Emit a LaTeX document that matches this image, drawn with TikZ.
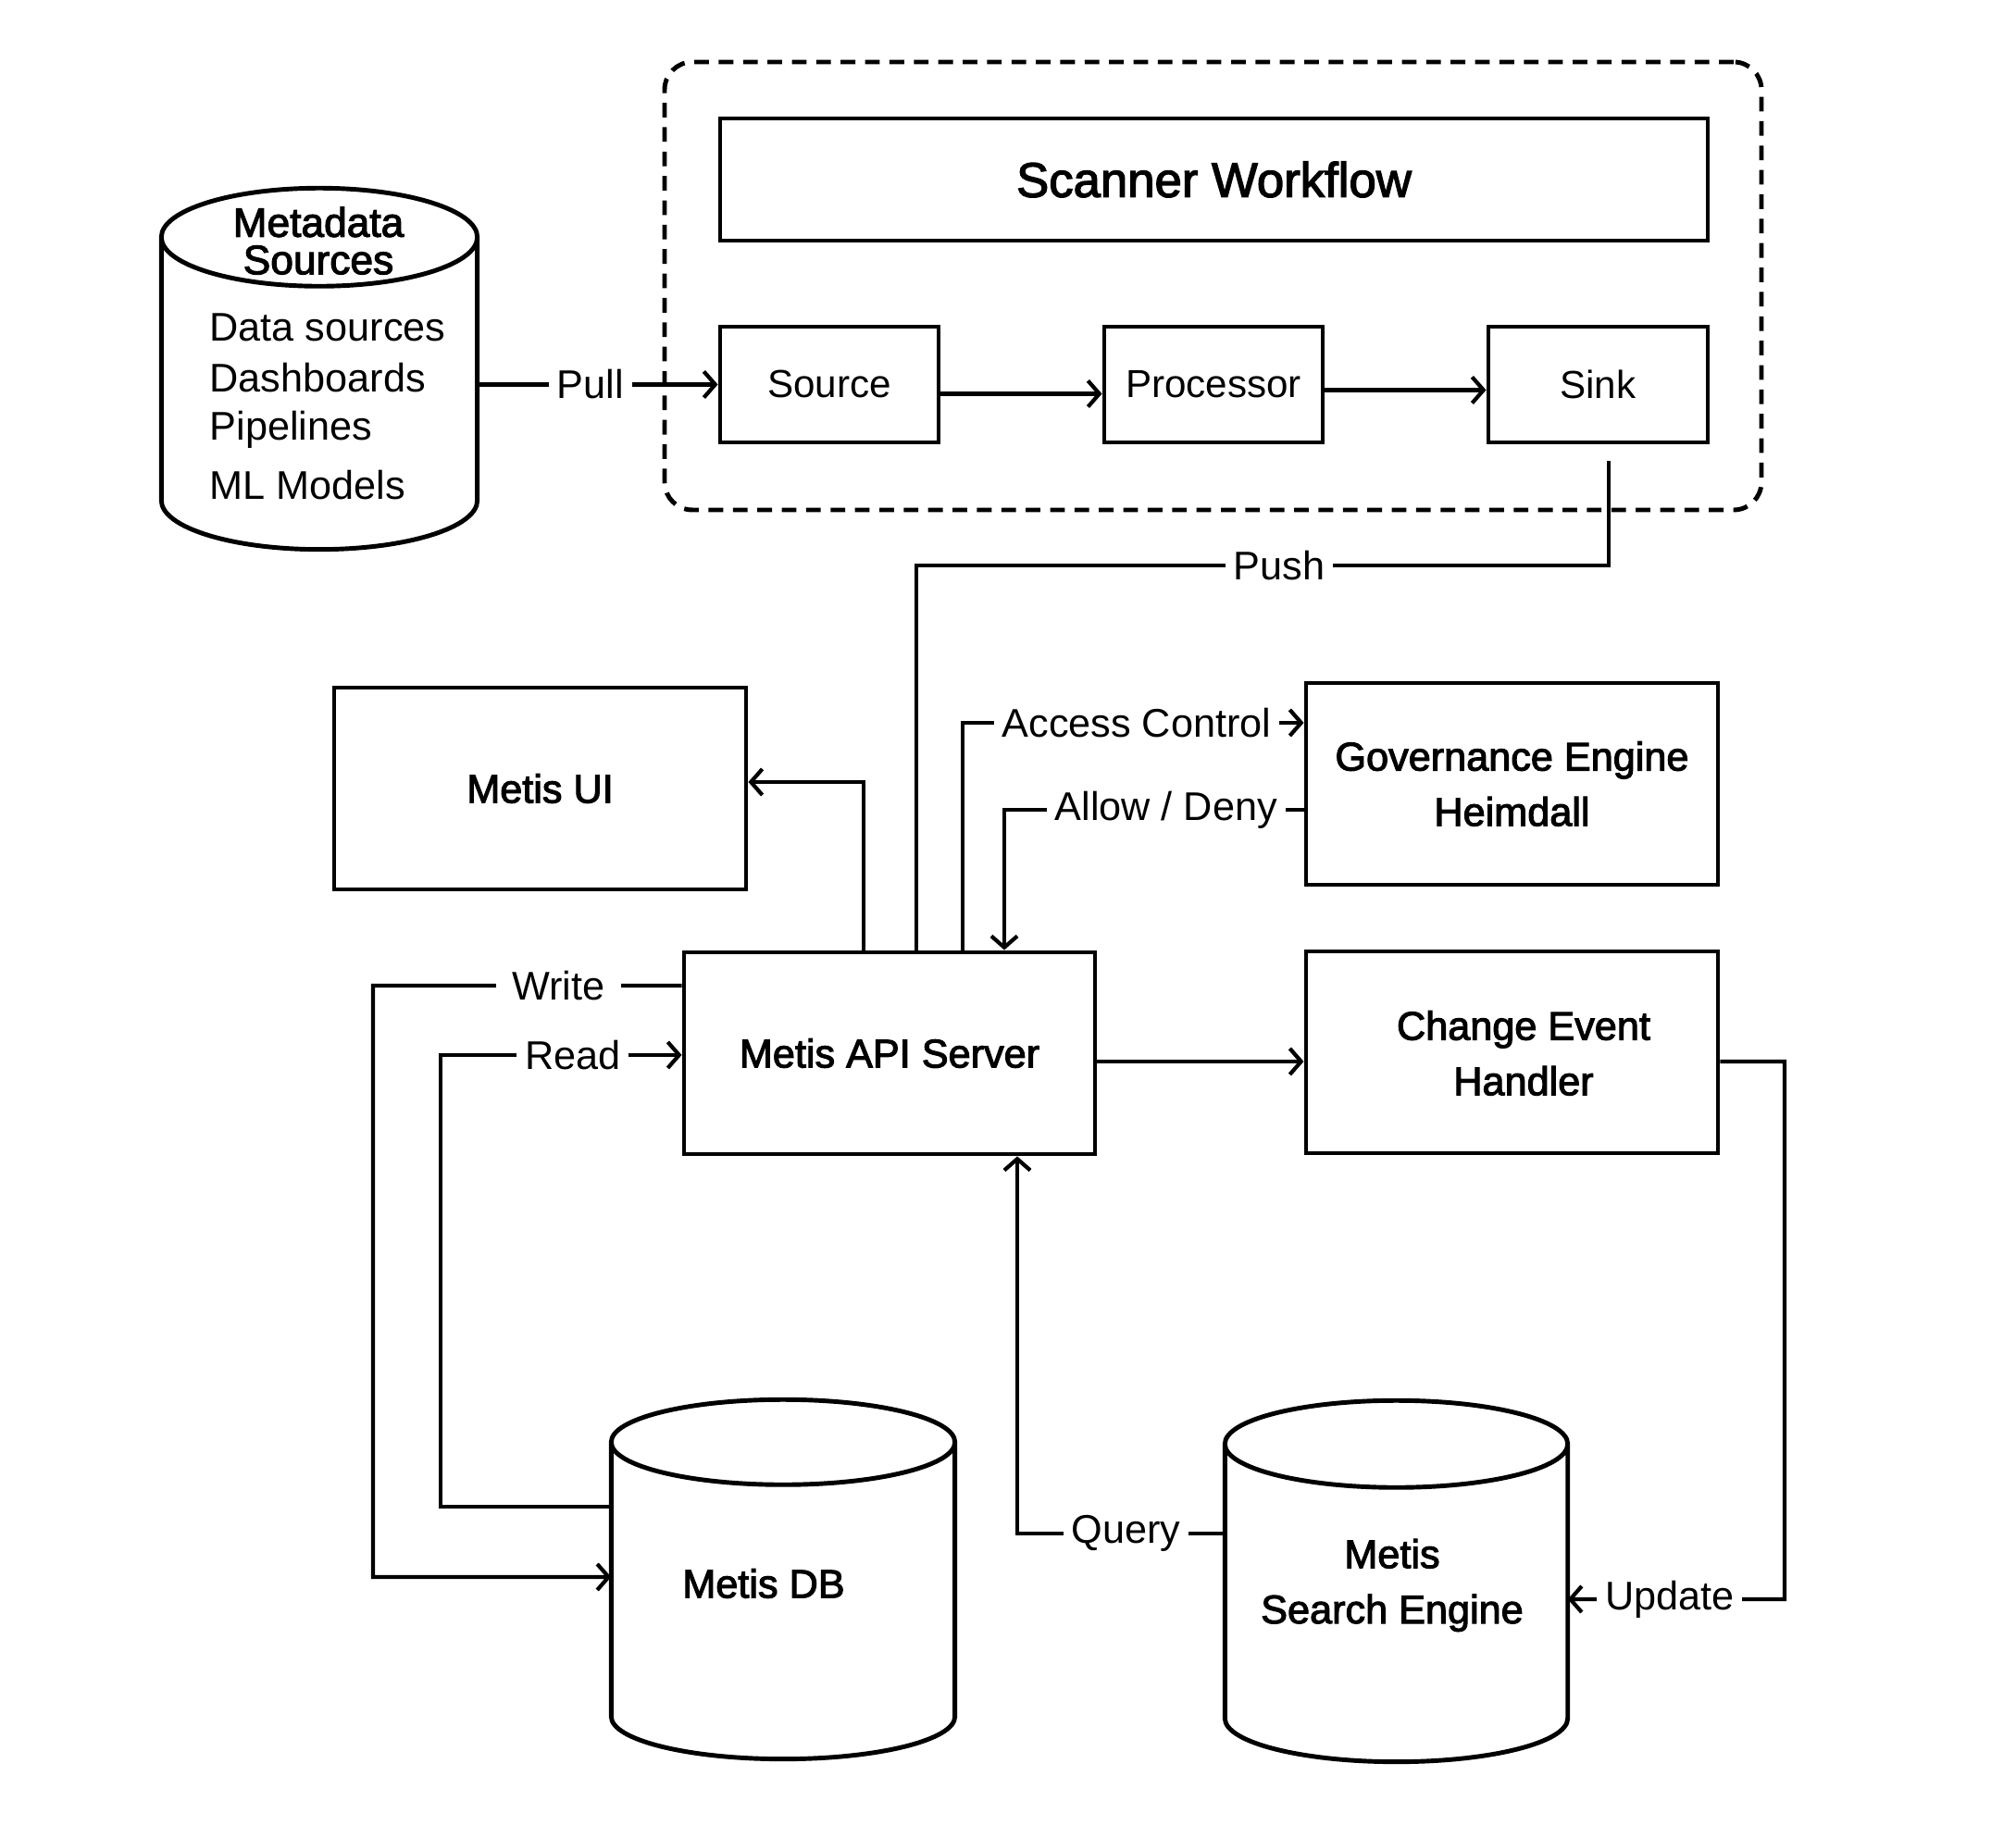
\documentclass[tikz,border=0pt]{standalone}
\usepackage{fontspec}
\setmainfont{Liberation Sans}
\newfontfamily\medfont[FakeBold=2.5]{Liberation Sans}
\usetikzlibrary{arrows.meta,calc}

\tikzset{
  box/.style={draw, line width=1.4pt, rectangle, inner sep=0pt},
  conn/.style={line width=1.2pt},
  arr/.style={conn, -{Straight Barb[length=3.5pt,width=8pt]}},
  lbl/.style={fill=white, inner xsep=2.5pt, inner ysep=1pt, font=\fontsize{12.3}{14}\selectfont},
  ttl/.style={font=\medfont\fontsize{12.3}{17}\selectfont, align=center},
  txt/.style={font=\fontsize{12.3}{14}\selectfont, inner sep=0pt},
  cylbody/.style={inner sep=0pt, rectangle},
}

% outline of a vertical cylinder fitted to a node: #1 node name, #2 radius of the end ellipses
\newcommand\drawcylinder[2]{%
  \draw[line width=1.4pt] let \p1=(#1.north west), \p2=(#1.south east), \n1={(\x2-\x1)/2} in
    (\x1,\y1-#2) -- (\x1,\y2+#2)
    arc[start angle=180, end angle=360, x radius=\n1, y radius=#2]
    -- (\x2,\y1-#2)
    (\x1+\n1,\y1-#2) ellipse[x radius=\n1, y radius=#2];
}

\begin{document}
\begin{tikzpicture}
\useasboundingbox (0,0) rectangle (21.78,19.86);
\fill[white] (0,0) rectangle (21.78,19.86);

% scanner workflow group
\node[draw, line width=1.4pt, dash pattern=on 4.5pt off 3pt, rounded corners=0.3cm,
      minimum width=11.85cm, minimum height=4.84cm] (scanner) at (13.105,16.77) {};
\node[box, minimum width=10.67cm, minimum height=1.32cm,
      font=\medfont\fontsize{15}{18}\selectfont] (wf) at (13.115,17.92) {Scanner Workflow};
\node[box, minimum width=2.36cm, minimum height=1.25cm, font=\fontsize{12}{14}\selectfont] (src) at (8.96,15.705) {Source};
\node[box, minimum width=2.36cm, minimum height=1.25cm, font=\fontsize{12}{14}\selectfont] (proc) at (13.11,15.705) {Processor};
\node[box, minimum width=2.37cm, minimum height=1.25cm, font=\fontsize{12}{14}\selectfont] (sink) at (17.265,15.705) {Sink};

% metadata sources
\node[cylbody, minimum width=3.40cm, minimum height=3.89cm] (meta) at (3.45,15.875) {};
\drawcylinder{meta}{0.53cm}
\node[ttl, font=\medfont\fontsize{12.6}{14}\selectfont, inner sep=0pt] (metat1) at (3.44,17.46) {Metadata};
\node[ttl, font=\medfont\fontsize{12.6}{14}\selectfont, inner sep=0pt] (metat2) at (3.44,17.05) {Sources};
\node[txt, anchor=west] (ms1) at (2.26,16.32) {Data sources};
\node[txt, anchor=west] (ms2) at (2.26,15.78) {Dashboards};
\node[txt, anchor=west] (ms3) at (2.26,15.22) {Pipelines};
\node[txt, anchor=west] (ms4) at (2.26,14.62) {ML Models};

% service boxes
\node[box, ttl, minimum width=4.45cm, minimum height=2.18cm] (ui) at (5.835,11.34) {Metis UI};
\node[box, ttl, minimum width=4.45cm, minimum height=2.18cm] (gov) at (16.335,11.39) {Governance Engine\\Heimdall};
\node[box, ttl, minimum width=4.44cm, minimum height=2.18cm] (api) at (9.61,8.48) {Metis API Server};
\node[box, minimum width=4.45cm, minimum height=2.18cm] (ceh) at (16.335,8.49) {};
\node[ttl, inner sep=0pt] (cehtxt) at (16.46,8.48) {Change Event\\Handler};

% storage
\node[cylbody, minimum width=3.70cm, minimum height=3.87cm] (db) at (8.46,2.795) {};
\drawcylinder{db}{0.46cm}
\node[ttl, inner sep=0pt] (dbtxt) at (8.25,2.75) {Metis DB};
\node[cylbody, minimum width=3.69cm, minimum height=3.89cm] (se) at (15.085,2.775) {};
\drawcylinder{se}{0.47cm}
\node[ttl, inner sep=0pt] (setxt) at (15.04,2.73) {Metis\\Search Engine};

% scanner connectors
\draw[arr] (meta.east |- src.west) -- node[lbl, pos=0.47] {Pull} (src.west);
\draw[arr] ([yshift=-0.1cm]src.east) -- ([yshift=-0.1cm]proc.west);
\draw[arr] ([yshift=-0.06cm]proc.east) -- ([yshift=-0.06cm]sink.west);

\coordinate (sinkout) at ($(sink.south)+(0.115,-0.18)$);
\coordinate (pushbend) at (9.90,13.75);
\draw[conn] (sinkout) -- (sinkout |- pushbend) -- node[lbl, pos=0.476] {Push} (pushbend) -- (pushbend |- api.north);

% api server connectors
\draw[arr] ([xshift=-0.28cm]api.north) |- ([yshift=0.07cm]ui.east);
\draw[arr] ([xshift=0.79cm]api.north) |- node[lbl, pos=0.755] {Access Control} ([yshift=0.66cm]gov.west);
\draw[arr] ([yshift=-0.28cm]gov.west) -| node[lbl, pos=0.23] {Allow / Deny} ([xshift=1.24cm]api.north);

\coordinate (writebend) at (4.03,9.21);
\draw[arr] ([yshift=0.73cm]api.west) -- node[lbl, pos=0.40, inner xsep=5pt] {Write} (writebend) |- ([yshift=0.025cm]db.west);
\coordinate (readbend) at (4.76,3.58);
\draw[arr] ([yshift=0.785cm]db.west) -- (readbend) |- node[lbl, pos=0.774] {Read} ([yshift=-0.02cm]api.west);

\coordinate (apiout) at ([yshift=-0.09cm]api.east);
\draw[arr] (apiout) -- (apiout -| ceh.west);

\draw[arr] ([yshift=0.515cm]se.west) -| node[lbl, pos=0.238] {Query} ([xshift=1.38cm]api.south);

\coordinate (updbend) at (19.28,2.58);
\draw[arr] ([yshift=-0.1cm]ceh.east) -| (updbend) -- node[lbl, pos=0.53] {Update} ([yshift=-0.195cm]se.east);
\end{tikzpicture}
\end{document}
